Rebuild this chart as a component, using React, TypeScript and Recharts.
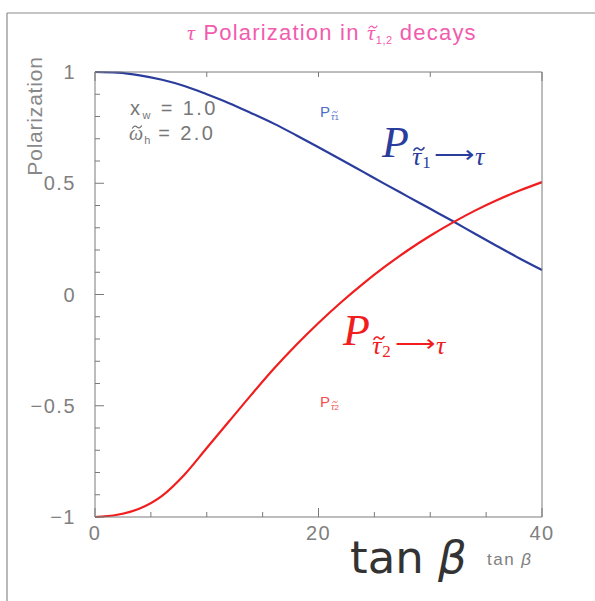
import { LineChart, Line, XAxis, YAxis } from "recharts";

// tan(beta) sample points and the two stau -> tau polarizations
const TAN_BETA = [0, 2, 4, 6, 8, 10, 12, 14, 16, 18, 20, 22, 24, 26, 28, 30, 32, 34, 36, 38, 40];
const P_STAU1 = [1.0, 0.997, 0.985, 0.965, 0.937, 0.9, 0.86, 0.815, 0.768, 0.716, 0.662, 0.607, 0.551, 0.495, 0.44, 0.385, 0.33, 0.273, 0.217, 0.162, 0.11];
const P_STAU2 = [-1.0, -0.99, -0.962, -0.905, -0.81, -0.69, -0.57, -0.45, -0.334, -0.227, -0.128, -0.036, 0.049, 0.127, 0.199, 0.264, 0.323, 0.377, 0.425, 0.467, 0.505];

const X_TICKS = [0, 5, 10, 15, 20, 25, 30, 35, 40];
const X_LABELS = [0, 20, 40];
const Y_TICKS = [-1, -0.9, -0.8, -0.7, -0.6, -0.5, -0.4, -0.3, -0.2, -0.1, 0, 0.1, 0.2, 0.3, 0.4, 0.5, 0.6, 0.7, 0.8, 0.9, 1];
const Y_LABELS = [-1, -0.5, 0, 0.5, 1];

const data = TAN_BETA.map((t, i) => ({ t, p1: P_STAU1[i], p2: P_STAU2[i] }));

const FRAME = "#7a7a7a";
const BLUE = "#2b3d9c";
const RED = "#f01e1e";
const SANS = "Liberation Sans, Arial, sans-serif";
const SERIF = "Liberation Serif, serif";
const fmt = (v: number) => String(v).replace("-", "\u2212");
const isLabel = (list: number[], v: number) => list.some((l) => Math.abs(l - v) < 1e-9);

// inward ticks: long at labelled values, short elsewhere
function XTick(props: any) {
  const { x, y, payload, top } = props;
  const major = isLabel(X_LABELS, payload.value);
  const len = major ? 9 : 5;
  const dir = top ? 1 : -1;
  return (
    <g>
      <line x1={x} y1={y} x2={x} y2={y + dir * len} stroke={FRAME} strokeWidth={1} />
      {!top && major && (
        <text x={x} y={y + 23} textAnchor="middle" fill="#808080" fontSize={20} fontFamily={SANS} letterSpacing={1.5}>
          {fmt(payload.value)}
        </text>
      )}
    </g>
  );
}

function YTick(props: any) {
  const { x, y, payload, right } = props;
  const major = isLabel(Y_LABELS, payload.value);
  const len = major ? 9 : 5;
  const dir = right ? -1 : 1;
  return (
    <g>
      <line x1={x} y1={y} x2={x + dir * len} y2={y} stroke={FRAME} strokeWidth={1} />
      {!right && major && (
        <text x={x - 19} y={y + 7} textAnchor="end" fill="#808080" fontSize={20} fontFamily={SANS} letterSpacing={1.5}>
          {fmt(payload.value)}
        </text>
      )}
    </g>
  );
}

// tilde accent drawn as a small wave centred at (cx, cy)
function Tilde({ cx, cy, w, color, sw = 1.4 }: { cx: number; cy: number; w: number; color: string; sw?: number }) {
  const a = w * 0.13;
  const x0 = cx - w / 2;
  const d = `M ${x0} ${cy + a} Q ${x0 + w * 0.25} ${cy - a * 2} ${x0 + w * 0.5} ${cy} T ${x0 + w} ${cy - a}`;
  return <path d={d} fill="none" stroke={color} strokeWidth={sw} strokeLinecap="round" />;
}

export default function App() {
  return (
    <div style={{ position: "absolute", left: 0, top: 0, width: 595, height: 601, background: "#fff" }}>
      <LineChart width={595} height={601} data={data} margin={{ top: 71, right: 52, bottom: 83, left: 94 }}>
        <XAxis xAxisId="b" dataKey="t" type="number" domain={[0, 40]} ticks={X_TICKS} interval={0}
          height={1} tickSize={0} tickMargin={0} tickLine={false} stroke={FRAME} tick={<XTick />} />
        <XAxis xAxisId="t" orientation="top" type="number" domain={[0, 40]} ticks={X_TICKS} interval={0}
          height={1} tickSize={0} tickMargin={0} tickLine={false} stroke={FRAME} tick={<XTick top />} />
        <YAxis yAxisId="l" type="number" domain={[-1, 1]} ticks={Y_TICKS} interval={0}
          width={1} tickSize={0} tickMargin={0} tickLine={false} stroke={FRAME} tick={<YTick />} />
        <YAxis yAxisId="r" orientation="right" type="number" domain={[-1, 1]} ticks={Y_TICKS} interval={0}
          width={1} tickSize={0} tickMargin={0} tickLine={false} stroke={FRAME} tick={<YTick right />} />

        <Line xAxisId="b" yAxisId="l" type="monotone" dataKey="p1" stroke={BLUE} strokeWidth={2.2}
          dot={false} isAnimationActive={false} />
        <Line xAxisId="b" yAxisId="l" type="monotone" dataKey="p2" stroke={RED} strokeWidth={2.2}
          dot={false} isAnimationActive={false} />
      </LineChart>

      <svg width={595} height={601} style={{ position: "absolute", left: 0, top: 0, pointerEvents: "none" }}>
        {/* outer panel border */}
        <line x1={7} y1={13} x2={595} y2={13} stroke="#8a8a8a" strokeWidth={1.2} />
        <line x1={7} y1={13} x2={7} y2={601} stroke="#8a8a8a" strokeWidth={1.2} />

        {/* title */}
        <text x={187} y={40} fill="#f25cae" fontSize={22} fontFamily={SANS} letterSpacing={1.2}>
          <tspan fontFamily={SERIF} fontStyle="italic">τ</tspan>
          <tspan> Polarization in </tspan>
          <tspan fontFamily={SERIF} fontStyle="italic" letterSpacing={0}>τ</tspan>
          <tspan fontSize={11} letterSpacing={0.5} dx={1} dy={4}>1,2</tspan>
          <tspan dy={-4}> decays</tspan>
        </text>
        <Tilde cx={373} cy={27} w={8} color="#f25cae" sw={1.2} />

        {/* y axis title */}
        <text transform="translate(42,116) rotate(-90)" textAnchor="middle" fill="#888" fontSize={21}
          fontFamily={SANS} letterSpacing={0.8}>Polarization</text>

        {/* parameters */}
        <text x={130} y={115} fill="#777" fontSize={20} fontFamily={SANS} letterSpacing={2.4}>
          x<tspan fontSize={11} dy={4}>w</tspan><tspan dy={-4}> = 1.0</tspan>
        </text>
        <text x={129} y={140} fill="#777" fontSize={20} fontFamily={SANS}>
          <tspan fontFamily={SERIF} fontStyle="italic">ω</tspan>
          <tspan fontSize={11} dx={1} dy={4}>h</tspan>
          <tspan letterSpacing={2.4} dy={-4}> = 2.0</tspan>
        </text>
        <Tilde cx={137} cy={127} w={9} color="#777" sw={1.2} />

        {/* small curve tags */}
        <text x={320} y={117} fill="#4a6ec8" fontSize={15} fontFamily={SANS}>
          P<tspan fontSize={10} fontFamily={SERIF} fontStyle="italic" dx={1} dy={3}>τ</tspan>
          <tspan fontSize={8}>1</tspan>
        </text>
        <Tilde cx={335} cy={112} w={5} color="#4a6ec8" sw={0.9} />
        <text x={320} y={407} fill="#f05050" fontSize={15} fontFamily={SANS}>
          P<tspan fontSize={10} fontFamily={SERIF} fontStyle="italic" dx={1} dy={3}>τ</tspan>
          <tspan fontSize={8}>2</tspan>
        </text>
        <Tilde cx={335} cy={402} w={5} color="#f05050" sw={0.9} />

        {/* big blue label */}
        <text x={382} y={157} fill={BLUE} fontFamily={SERIF}>
          <tspan fontSize={44} fontStyle="italic">P</tspan>
          <tspan fontSize={26} fontStyle="italic" dx={3} dy={8}>τ</tspan>
          <tspan fontSize={17} dx={1} dy={3}>1</tspan>
        </text>
        <Tilde cx={419} cy={149} w={10} color={BLUE} sw={1.6} />
        <text x={434} y={163} fill={BLUE} fontSize={24} fontFamily={SERIF} textLength={40} lengthAdjust="spacingAndGlyphs">⟶</text>
        <text x={475} y={165} fill={BLUE} fontSize={26} fontFamily={SERIF} fontStyle="italic">τ</text>

        {/* big red label */}
        <text x={343} y={345} fill={RED} fontFamily={SERIF}>
          <tspan fontSize={44} fontStyle="italic">P</tspan>
          <tspan fontSize={26} fontStyle="italic" dx={2} dy={9}>τ</tspan>
          <tspan fontSize={17} dx={1} dy={3}>2</tspan>
        </text>
        <Tilde cx={379} cy={338} w={10} color={RED} sw={1.6} />
        <text x={395} y={352} fill={RED} fontSize={24} fontFamily={SERIF} textLength={40} lengthAdjust="spacingAndGlyphs">⟶</text>
        <text x={436} y={354} fill={RED} fontSize={26} fontFamily={SERIF} fontStyle="italic">τ</text>

        {/* x axis titles */}
        <text x={350} y={573} fill="#333" fontSize={45} fontFamily="DejaVu Sans, sans-serif">
          tan <tspan fontStyle="italic">β</tspan>
        </text>
        <text x={487} y={565} fill="#808080" fontSize={17} fontFamily={SANS} letterSpacing={1.5}>
          tan <tspan fontStyle="italic">β</tspan>
        </text>
      </svg>
    </div>
  );
}
